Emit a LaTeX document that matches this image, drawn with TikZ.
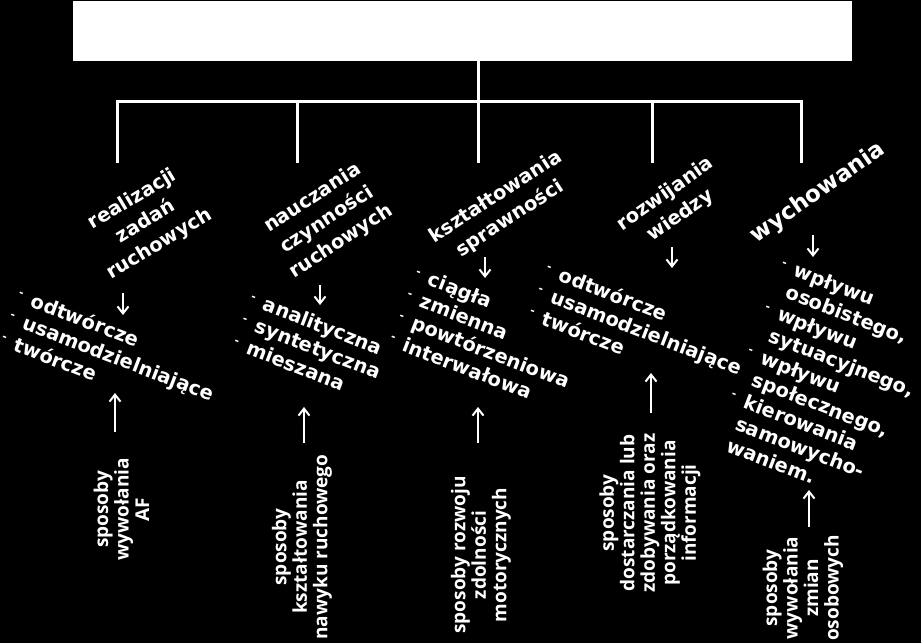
\documentclass[tikz,border=0pt]{standalone}
\usepackage{fontspec}
\setmainfont{DejaVu Sans}
\newfontfamily\sposobfont{Open Sans}
\usetikzlibrary{arrows.meta,positioning}
\newcommand\punkt{\makebox[0.75em][l]{\raisebox{0.3em}{\fontsize{11}{11}\selectfont -}}}
\newcommand\wciecie{\hspace*{0.75em}}
\tikzset{
  galaz/.style={white,line width=3pt},
  cel/.style={draw=white,fill=white,minimum width=778pt,minimum height=59pt,inner sep=0pt},
  naglowek/.style={text=white,font=\fontsize{19.5}{26}\selectfont\bfseries,
    align=center,inner sep=0pt},
  lista/.style={text=white,font=\fontsize{19.5}{23.5}\selectfont\bfseries,
    align=left,rotate=-21,inner sep=0pt,anchor=north west},
  sposoby/.style={text=white,font=\sposobfont\fontsize{19}{20.5}\selectfont\bfseries,
    align=center,rotate=90,inner sep=0pt},
  strzalka/.style={-{Straight Barb[length=7pt,width=11pt]},white,line width=2pt}
}
\begin{document}
\begin{tikzpicture}[x=1pt,y=-1pt]
  \fill[black] (0,0) rectangle (921,643);
  \useasboundingbox (0,0) rectangle (921,643);
  \node[cel] (glowny) at (462,30.5) {};
  \coordinate (szyna) at (478,101);
  \draw[galaz] (glowny.south -| szyna) -- (szyna);
  \foreach \x [count=\i] in {117,297,478,652,801}
    \coordinate (k\i) at (\x,163);
  \draw[galaz,line cap=rect] (k1 |- szyna) -- (k5 |- szyna);
  \foreach \i in {1,...,5}
    \draw[galaz] (k\i |- szyna) -- (k\i);

  \node[naglowek,rotate=31] (h1) at (146,222) {realizacji\\zadań\\ruchowych};
  \node[naglowek,rotate=33] (h2) at (327,220) {nauczania\\czynności\\ruchowych};
  \node[naglowek,rotate=33] (h3) at (503,208) {kształtowania\\sprawności};
  \node[naglowek,rotate=35] (h4) at (673,205) {rozwijania\\wiedzy};
  \node[naglowek,rotate=35,font=\fontsize{23}{28}\selectfont\bfseries] (h5) at (818,193) {wychowania};

  \foreach \x/\ya/\yb [count=\i] in {123/293/315,320/285/305,485/257/278,672/247/268,813/235/257} {
    \coordinate (g\i) at (\x,\ya);
    \coordinate (d\i) at (\x,\yb);
    \draw[strzalka] (g\i) -- (d\i);
  }

  \node[lista] (l1) at (21.5,286.5) {\punkt odtwórcze\\\punkt usamodzielniające\\\punkt twórcze};
  \node[lista] (l2) at (253.5,290.5) {\punkt analityczna\\\punkt syntetyczna\\\punkt mieszana};
  \node[lista] (l3) at (418.5,265.5) {\punkt ciągła\\\punkt zmienna\\\punkt powtórzeniowa\\\punkt interwałowa};
  \node[lista] (l4) at (549.5,260.5) {\punkt odtwórcze\\\punkt usamodzielniające\\\punkt twórcze};
  \node[lista] (l5) at (784.5,256.5) {\punkt wpływu\\\wciecie osobistego,\\\punkt wpływu\\\wciecie sytuacyjnego,\\
    \punkt wpływu\\\wciecie społecznego,\\\punkt kierowania\\\wciecie samowycho-\\\wciecie waniem.};

  \foreach \x/\ya/\yb [count=\i] in {115/432/393,304/443/407,478/443/407,651/413/373,809/527/490} {
    \coordinate (p\i) at (\x,\ya);
    \coordinate (q\i) at (\x,\yb);
    \draw[strzalka] (p\i) -- (q\i);
  }

  \node[sposoby] (s1) at (121.5,509.5) {sposoby\\wywołania\\AF};
  \node[sposoby] (s2) at (302,547) {sposoby\\kształtowania\\nawyku ruchowego};
  \node[sposoby] (s3) at (481,555) {sposoby rozwoju\\zdolności\\motorycznych};
  \node[sposoby] (s4) at (650,513) {sposoby\\dostarczania lub\\zdobywania oraz\\porządkowania\\informacji};
  \node[sposoby] (s5) at (803,588) {sposoby\\wywołania\\zmian\\osobowych};
\end{tikzpicture}
\end{document}
